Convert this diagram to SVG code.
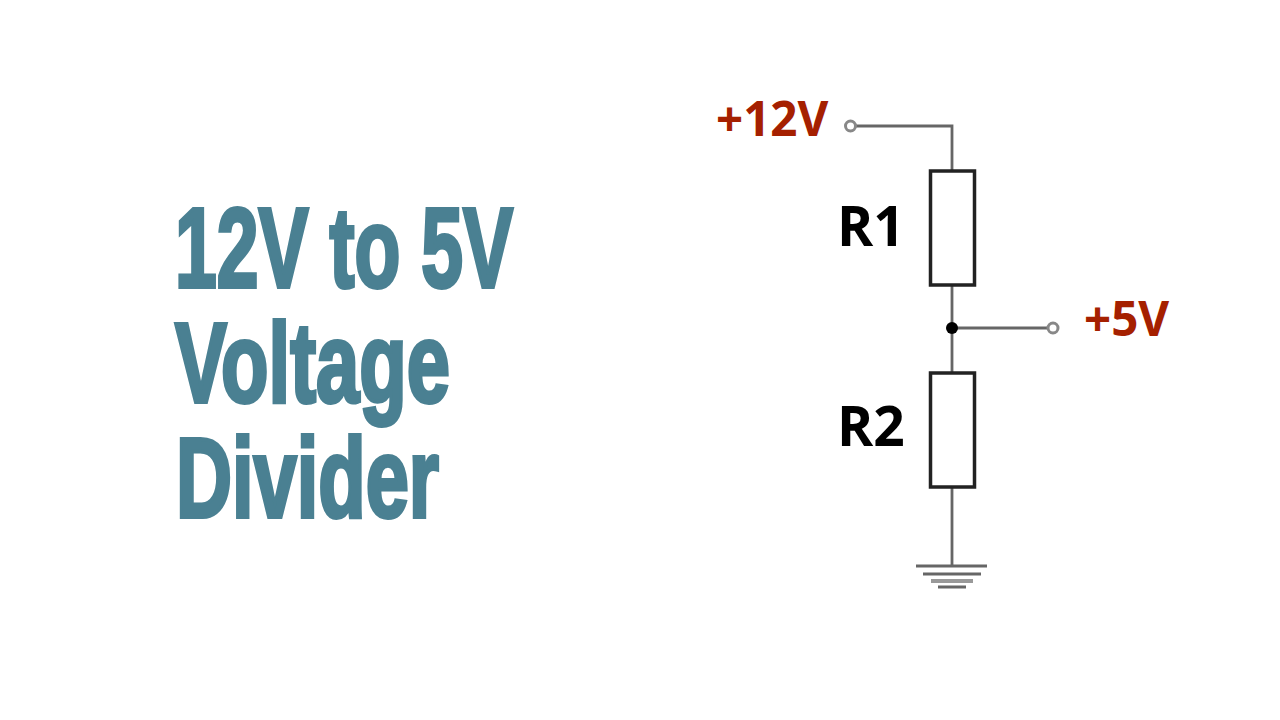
<svg xmlns="http://www.w3.org/2000/svg" width="1280" height="720" viewBox="0 0 1280 720">
<defs><filter id="soft" x="-5%" y="-5%" width="110%" height="110%"><feGaussianBlur stdDeviation="0.55"/></filter></defs>
<style>
.title{font-family:"Liberation Sans","Liberation Sans Narrow",sans-serif;font-weight:700;font-size:114px;fill:#4a8092;stroke:#4a8092;stroke-width:4;stroke-linejoin:miter}
.lbl{font-family:"Open Sans","Liberation Sans",sans-serif;font-weight:700}
.k{font-size:55px;fill:#000}
.v{font-size:47.500px;fill:#a52000}
.w{fill:none;stroke:#666;stroke-width:2.800}
.r{fill:#fff;stroke:#222;stroke-width:3.500}
.t{fill:#fff;stroke:#888;stroke-width:3}
</style>
<rect width="1280" height="720" fill="#fff"/>
<g id="title">
<text class="title" x="175" y="287" textLength="338" lengthAdjust="spacingAndGlyphs">12V to 5V</text>
<text class="title" x="175" y="402" textLength="275" lengthAdjust="spacingAndGlyphs">Voltage</text>
<text class="title" x="176" y="517" textLength="263" lengthAdjust="spacingAndGlyphs">Divider</text>
</g>
<g filter="url(#soft)">
<g id="connectors">
<path class="w" d="M856 126H952V171M952 285V373M952 328H1047M952 487V566"/>
<path class="w" d="M916 566H987M923 574H981M938 587H966"/>
<path d="M931 581H973" fill="none" stroke="#999" stroke-width="4"/>
</g>
<g id="r1"><rect class="r" x="930.500" y="171" width="44" height="114"/></g>
<g id="r2"><rect class="r" x="930.500" y="373" width="44" height="114"/></g>
<g id="in"><circle class="t" cx="850.500" cy="126" r="5"/></g>
<g id="out"><circle class="t" cx="1053" cy="328" r="5"/></g>
<g id="junction"><circle cx="952" cy="328" r="6" fill="#000"/></g>
</g>
<g id="labels">
<text class="lbl k" x="837" y="246">R1</text>
<text class="lbl k" x="837" y="446">R2</text>
<text class="lbl v" x="716" y="136">+12V</text>
<text class="lbl v" x="1084" y="336">+5V</text>
</g>
</svg>
